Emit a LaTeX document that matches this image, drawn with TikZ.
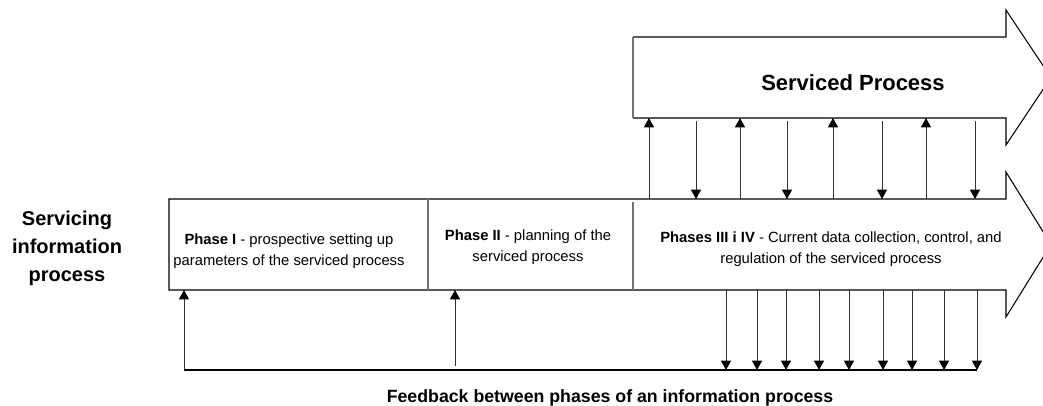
\documentclass[tikz,border=0pt]{standalone}
\usepackage{fontspec}
\setmainfont{Liberation Sans}
\usetikzlibrary{arrows.meta}

\begin{document}
\begin{tikzpicture}[x=0.75pt, y=-0.75pt,
		outline/.style={line width=0.8pt, black},
		divider/.style={line width=1pt, black!55},
		conn/.style={line width=0.7pt, black!80, -{Triangle[length=7pt, width=7.5pt, color=black]}},
		phase/.style={align=center, inner sep=0pt, font=\fontsize{11.1}{15.5}\selectfont},
		heading/.style 2 args={align=center, inner sep=0pt, font=\fontsize{#1}{#2}\selectfont\bfseries}]
			%%%%% START %%%%%
			\useasboundingbox (0,0) rectangle (1043,405);
			
			% serviced process
			\draw[outline] (633,37) -- (1006,37) -- (1006,10) -- (1051,77.5) -- (1006,145) -- (1006,118) -- (633,118);
			\draw[divider] (633,37) -- (633,118);
			\node[heading={16.5}{23}] (serv) at (853,83) {Serviced Process};
			
			% servicing information process
			\draw[outline] (169,199) -- (1006,199) -- (1006,172) -- (1051,244.5) -- (1006,317) -- (1006,290) -- (169,290) -- cycle;
			\draw[divider] (428,199) -- (428,290);
			\draw[divider] (633,202) -- (633,290);
			\node[heading={15}{21}] (servicing) at (67,248) {Servicing\\information\\process};
			
			\node[phase] (ph1) at (289,251) {\textbf{Phase I} - prospective setting up\\parameters of the serviced process};
			\node[phase] (ph2) at (528,247) {\textbf{Phase II} - planning of the\\serviced process};
			\node[phase] (ph34) at (831,249) {\textbf{Phases III i IV} - Current data collection, control, and\\regulation of the serviced process};
			
			\coordinate (topbot) at (0,118);
			\coordinate (lowtop) at (0,199);
			\coordinate (lowbot) at (0,290);
			
			% exchange with the serviced process
			\foreach \x in {649,740,833,926}
				\draw[conn] (\x,0 |- lowtop) -- (\x,0 |- topbot);
			\foreach \x in {696,787,882,975}
				\draw[conn] (\x,121) -- (\x,0 |- lowtop);
			
			% feedback
			\coordinate (fbL) at (184,370);
			\coordinate (fbR) at (977,370);
			\draw[outline] (fbL) -- (fbR);
			\foreach \x in {726,757,786,819,849,883,912,944,977}
				\draw[conn] (\x,0 |- lowbot) -- (\x,0 |- fbL);
			\draw[conn] (fbL) -- (fbL |- lowbot);
			\draw[conn] (455,366) -- (455,0 |- lowbot);
			
			\node[heading={13.3}{18}, anchor=base] (fbtext) at (610,402) {Feedback between phases of an information process};
			
			%%%%% END %%%%%
		\end{tikzpicture}
\end{document}
